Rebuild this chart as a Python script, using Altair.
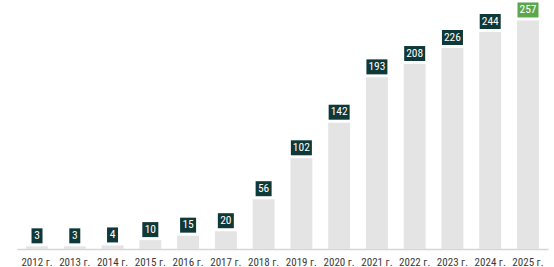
import altair as alt
import pandas as pd

years = ["2012 г.", "2013 г.", "2014 г.", "2015 г.", "2016 г.", "2017 г.", "2018 г.",
         "2019 г.", "2020 г.", "2021 г.", "2022 г.", "2023 г.", "2024 г.", "2025 г."]
values = [3, 3, 4, 10, 15, 20, 56, 102, 142, 193, 208, 226, 244, 257]
highlight = [False] * 13 + [True]

df = pd.DataFrame({"year": years, "value": values, "hl": highlight})

FONT = "Liberation Sans Narrow, Roboto Condensed, Arial Narrow, Roboto, sans-serif"

x = alt.X("year:N", sort=years, title=None,
          scale=alt.Scale(paddingInner=0.42, paddingOuter=0.24),
          axis=alt.Axis(labelAngle=0, ticks=False, domain=True, domainColor="#d6d6d6",
                        domainWidth=1.5, labelFont=FONT, labelFontSize=11,
                        labelColor="#3a3a3a", labelPadding=7))
y = alt.Y("value:Q", scale=alt.Scale(domain=[0, 280], nice=False), axis=None)

base = alt.Chart(df)

bars = base.mark_bar(color="#e4e4e4").encode(x=x, y=y)

boxes = base.transform_calculate(
    bw="length(toString(datum.value)) * 5 + 6"
).mark_bar(yOffset=-3, y2Offset=-18).encode(
    x=x,
    y=alt.Y("value:Q"),
    y2=alt.Y2("value:Q"),
    size=alt.Size("bw:Q", scale=None, legend=None),
    color=alt.condition("datum.hl", alt.value("#5ca74c"), alt.value("#0f3838")),
)

labels = base.mark_text(color="white", font=FONT, fontSize=11.5, baseline="middle",
                        dy=-10.5).encode(x=x, y=alt.Y("value:Q"), text="value:Q")

chart = alt.layer(bars, boxes, labels).properties(
    width=531, height=249,
    padding={"left": 17, "top": 0, "right": 6, "bottom": 18},
    autosize=alt.AutoSizeParams(type="none"),
).configure_view(stroke=None)

chart.save("out.html", embed_options={"renderer": "svg", "actions": False})
